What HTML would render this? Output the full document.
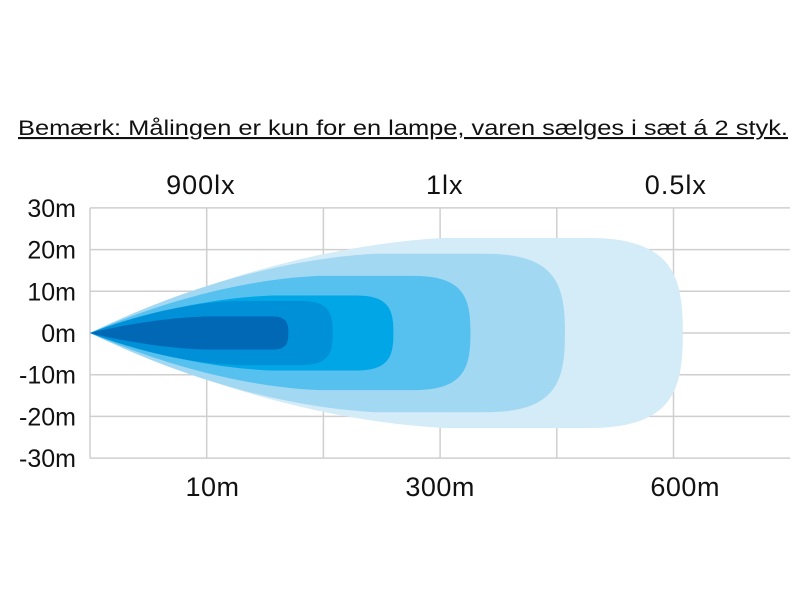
<!DOCTYPE html>
<html><head><meta charset="utf-8">
<style>
html,body{margin:0;padding:0;background:#fff;}
svg{display:block;font-family:"Liberation Sans",Arial,sans-serif;}
</style></head>
<body>
<svg width="800" height="600" viewBox="0 0 800 600">
<text x="18" y="135" font-size="21" textLength="770" lengthAdjust="spacingAndGlyphs" text-decoration="underline" fill="#111">Bemærk:  Målingen er kun for en lampe, varen sælges i sæt á 2 styk.</text>
<g id="grid"></g>
<g id="shapes"></g>
<g id="labels"></g>
</svg>
<script>
// data
const yTicks = [30, 20, 10, 0, -10, -20, -30];
const yTickLabels = ["30m","20m","10m","0m","-10m","-20m","-30m"];
const xGridUnits = [0, 1, 2, 3, 4, 5, 6];
const contourReach = [5.08, 4.07, 3.26, 2.6, 2.08, 1.7];   // grid units
const contourHalfWidth = [22.8, 19, 13.7, 9, 7.7, 4];      // metres
const contourColors = ["#d4ebf8","#a3d8f3","#56c0ee","#00a6e6","#0090d8","#0068b4"];
const luxLabels = ["900lx","1lx","0.5lx"];
const luxLabelPos = [0.95, 3.04, 5.02];
const distLabels = ["10m","300m","600m"];
const distLabelPos = [1.05, 3.0, 5.1];

const X0 = 90, XU = 116.7, Y0 = 333, YU = 4.17;
const sx = u => X0 + u * XU;
const sy = m => Y0 - m * YU;
const NS = "http://www.w3.org/2000/svg";
function mk(tag, attrs, parent){const e=document.createElementNS(NS,tag);for(const k in attrs)e.setAttribute(k,attrs[k]);parent.appendChild(e);return e;}

const grid = document.getElementById('grid');
yTicks.forEach(t => {
  const l = mk('line',{x1:X0,x2:790,y1:sy(t),y2:sy(t),stroke:'#cfcfcf','stroke-width':1.5},grid);
  
  
});
xGridUnits.forEach(u => {
  if (sx(u) > 790) return;
  const l = mk('line',{x1:sx(u),x2:sx(u),y1:sy(30),y2:sy(-30),stroke:'#cfcfcf','stroke-width':1.5},grid);
  
  
});

const shapes = document.getElementById('shapes');
contourReach.forEach((L, i) => {
  const H = contourHalfWidth[i];
  const xe = sx(L), Lp = xe - X0, Hp = H * YU;
  const r = Math.min(Hp, 0.28 * Lp);
  const xm = xe - r;
  const xa = Math.min(X0 + 0.6 * Lp, xm);
  const d = `M${X0},${Y0} C${X0+0.12*Lp},${Y0-0.35*Hp} ${X0+0.35*Lp},${Y0-0.92*Hp} ${xa},${Y0-Hp}` +
    ` L${xm},${Y0-Hp} C${xe-0.1*r},${Y0-Hp} ${xe},${Y0-0.6*Hp} ${xe},${Y0}` +
    ` C${xe},${Y0+0.6*Hp} ${xe-0.1*r},${Y0+Hp} ${xm},${Y0+Hp} L${xa},${Y0+Hp}` +
    ` C${X0+0.35*Lp},${Y0+0.92*Hp} ${X0+0.12*Lp},${Y0+0.35*Hp} ${X0},${Y0} Z`;
  const p = mk('path',{d:d,fill:contourColors[i]},shapes);
  
  
});

const labels = document.getElementById('labels');
yTicks.forEach((t, i) => {
  const tx = mk('text',{x:76,y:sy(t)+9,'text-anchor':'end','font-size':25,fill:'#111'},labels);
  tx.textContent = yTickLabels[i];
  
  
});
luxLabels.forEach((s, i) => {
  const tx = mk('text',{x:sx(luxLabelPos[i]),y:194,'text-anchor':'middle','font-size':27,'letter-spacing':1,fill:'#111'},labels);
  tx.textContent = s;
  
  
});
distLabels.forEach((s, i) => {
  const tx = mk('text',{x:sx(distLabelPos[i]),y:496,'text-anchor':'middle','font-size':27,'letter-spacing':0.5,fill:'#111'},labels);
  tx.textContent = s;
  
  
});
</script>
</body></html>
